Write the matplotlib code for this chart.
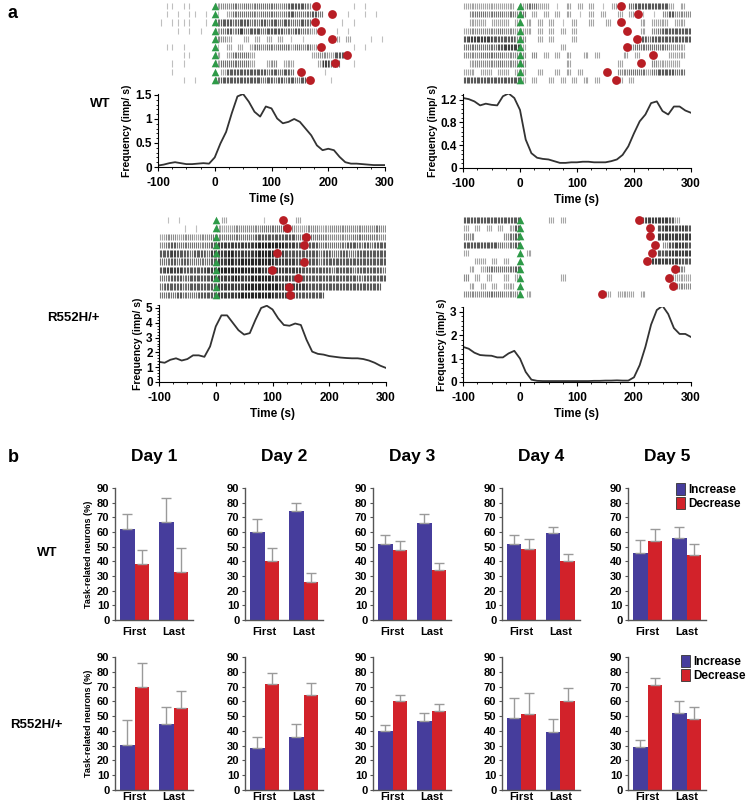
import numpy as np
import matplotlib
matplotlib.use("Agg")
from matplotlib import pyplot as plt
from matplotlib.patches import Patch
from matplotlib.ticker import MultipleLocator, AutoMinorLocator, FuncFormatter

plt.rcParams['font.family'] = ['Liberation Sans', 'DejaVu Sans']
plt.rcParams['font.weight'] = 'bold'
plt.rcParams['axes.labelweight'] = 'bold'
plt.rcParams['axes.unicode_minus'] = False

W, H = 752, 807

# ---------------- panel a data ----------------
times = np.arange(-100, 301, 10)

freq_wt_inc = [0.03, 0.05, 0.08, 0.10, 0.08, 0.06, 0.06, 0.07, 0.08, 0.07,
               0.20, 0.49, 0.73, 1.12, 1.47, 1.52, 1.36, 1.15, 1.05, 1.26,
               1.22, 1.01, 0.91, 0.94, 1.00, 0.94, 0.80, 0.66, 0.45, 0.35,
               0.38, 0.35, 0.21, 0.10, 0.07, 0.07, 0.06, 0.05, 0.04, 0.04, 0.04]
freq_wt_dec = [1.23, 1.21, 1.17, 1.10, 1.13, 1.11, 1.10, 1.26, 1.31, 1.23,
               1.02, 0.50, 0.26, 0.18, 0.16, 0.15, 0.12, 0.09, 0.09, 0.10,
               0.10, 0.11, 0.11, 0.10, 0.10, 0.10, 0.12, 0.15, 0.23, 0.38,
               0.61, 0.82, 0.94, 1.14, 1.17, 1.00, 0.94, 1.08, 1.08, 1.01, 0.97]
freq_mut_inc = [1.36, 1.30, 1.50, 1.60, 1.45, 1.55, 1.80, 1.80, 1.70, 2.40,
                3.75, 4.50, 4.50, 4.00, 3.50, 3.20, 3.30, 4.20, 5.00, 5.15,
                4.90, 4.30, 3.85, 3.80, 3.95, 3.85, 2.85, 2.05, 1.90, 1.85,
                1.75, 1.70, 1.65, 1.62, 1.60, 1.60, 1.55, 1.45, 1.30, 1.10, 0.95]
freq_mut_dec = [1.50, 1.42, 1.25, 1.15, 1.13, 1.12, 1.05, 1.05, 1.22, 1.33,
                1.00, 0.43, 0.10, 0.05, 0.04, 0.04, 0.04, 0.04, 0.04, 0.04,
                0.04, 0.04, 0.04, 0.05, 0.05, 0.06, 0.06, 0.07, 0.06, 0.06,
                0.20, 0.72, 1.50, 2.45, 3.07, 3.25, 2.90, 2.30, 2.05, 2.05, 1.92]

# raster darkness per 10 s bin (-100..300), one string per trial
raster_wt_inc = [
    "0220220000" "344545455554566640000000202000",
    "0202022020" "203555545554565556500002002020",
    "2022220020" "566566556565655650000020200000",
    "0002020200" "356475665666556543000202000000",
    "0000000000" "443003030303020200000303000202",
    "0220200000" "203030354545535453300000202000",
    "0000220000" "303555300000000003443660000000",
    "0020200000" "355555300340330000375500200000",
    "0020000000" "036666666565650000020000000000",
    "0000202000" "566666665656565640002000000000",
]
raster_wt_dec = [
    "3333333330" "355330203030302030056666663030",
    "0455455454" "503030303020303003030202046444",
    "0333033303" "030303020300300300000303330330",
    "3444445443" "330303030300000000000304566666",
    "6777766664" "400303000300000000003656666666",
    "5555556777" "300000030000000000045555554430",
    "4445555444" "404030303003030000303000003330",
    "0344445444" "400000003000000003000004333300",
    "3303303303" "300300303030000304455535666550",
    "6666666666" "303003030303030003030000000000",
]
raster_mut_inc = [
    "0202000000" "030000002000003000000000000000",
    "0000202000" "333444445555443344334444444454",
    "3443443445" "455555566666665555544444555544",
    "4565555456" "777777788888776666555556656566",
    "6676656657" "778777788877666666565565566666",
    "5565655556" "778788888877776666566666666666",
    "6777666677" "888888887777777666665666566665",
    "5566566667" "777877888877767666666666656666",
    "5666566666" "777778888887777766666666666660",
    "5556555666" "777788888877766666600000000000",
]
raster_mut_dec = [
    "6666666666" "000003030000000000000677776300",
    "3030303036" "000000000000000000000000677676",
    "4400000456" "000000000000000000000000777777",
    "6666665456" "000000000000000000000000046776",
    "3000000000" "030000000000000000000000667777",
    "0033030300" "000000000000000000000067777766",
    "0303555556" "000000000000000000000000000640",
    "4030300303" "000000030000000000000000003333",
    "0303030330" "000000000000000000000000000444",
    "4444555444" "030000000000000303330300000000",
]

cue_times = [0] * 10
end_wt = [178, 207, 177, 188, 206, 187, 233, 212, 152, 168]
end_mut_inc = [118, 126, 159, 155, 108, 155, 99, 145, 129, 130]
end_mut_dec = [209, 228, 228, 237, 232, 222, 272, 262, 269, 143]

# ---------------- panel b data ----------------
days = ["Day 1", "Day 2", "Day 3", "Day 4", "Day 5"]
blocks = ["First", "Last"]
wt_inc = [[62, 67], [60, 74], [52, 66], [51.5, 59.5], [46, 56]]
wt_inc_err = [[10, 16], [9, 6], [6, 6], [6.5, 4], [8.5, 7.5]]
wt_dec = [[38, 33], [40, 26], [48, 34], [48.5, 40.5], [54, 44]]
wt_dec_err = [[10, 16], [9, 6], [6, 5], [6.5, 4.5], [8, 8]]
mut_inc = [[30.5, 44.5], [28.5, 36], [40, 46.5], [48.5, 39.5], [29, 52]]
mut_inc_err = [[17, 11.5], [7.5, 9], [4, 5.5], [13.5, 8.5], [5, 8]]
mut_dec = [[69.5, 55.5], [71.5, 64], [60, 53.5], [51.5, 60.5], [71, 48]]
mut_dec_err = [[16.5, 11.5], [7.5, 8.5], [4.5, 5], [14, 8.5], [5, 8]]

BLUE = "#463d9c"
RED = "#d2222a"
GREEN = "#2e9a48"
DOTRED = "#b81e25"


def px_axes(x0, y0, x1, y1):
    return fig.add_axes([x0 / W, 1 - y1 / H, (x1 - x0) / W, (y1 - y0) / H])


def px_text(x, y, s, **kw):
    fig.text(x / W, 1 - y / H, s, **kw)


def draw_raster(ax, rows, ends):
    xs, y0s, y1s, cols = [], [], [], []
    for r, row in enumerate(rows):
        for i, c in enumerate(row):
            d = int(c)
            if d == 0:
                continue
            t0 = -100 + 10 * i
            if d >= 6:
                offs = [1.25, 3.75, 6.25, 8.75]
            elif d >= 3:
                offs = [1.7, 5.0, 8.3]
            else:
                offs = [5.0]
            g = max(0.0, 1 - 0.1 * d - 0.05)
            for o in offs:
                xs.append(t0 + o)
                y0s.append(r + 1 - 0.38)
                y1s.append(r + 1 + 0.38)
                cols.append((g, g, g))
    ax.vlines(xs, y0s, y1s, colors=cols, linewidth=0.8)
    rows_idx = np.arange(1, len(rows) + 1)
    ax.scatter(cue_times, rows_idx, marker='^', s=30, color=GREEN, zorder=3,
               clip_on=False, linewidths=0)
    ax.scatter(ends, rows_idx, marker='o', s=40, color=DOTRED, zorder=4,
               clip_on=False, linewidths=0)
    ax.set_xlim(-100, 300)
    ax.set_ylim(10.5, 0.5)
    ax.axis('off')


def draw_freq(ax, values, ymax, major):
    ax.plot(times, values, color="#333333", linewidth=1.3)
    ax.set_xlim(-100, 300)
    ax.set_ylim(0, ymax)
    ax.spines['top'].set_visible(False)
    ax.spines['right'].set_visible(False)
    ax.xaxis.set_major_locator(MultipleLocator(100))
    ax.xaxis.set_minor_locator(MultipleLocator(25))
    ax.yaxis.set_major_locator(MultipleLocator(major))
    ax.yaxis.set_minor_locator(AutoMinorLocator(5))
    ax.tick_params(labelsize=8.5, length=3, width=0.8, pad=1.5)
    ax.tick_params(axis='x', pad=4)
    ax.tick_params(which='minor', length=1.5, width=0.6)
    ax.set_xlabel("Time (s)", fontsize=8.5, labelpad=3)
    ax.set_ylabel("Frequency (imp/ s)", fontsize=7.5, labelpad=2)
    for lab in ax.get_xticklabels() + ax.get_yticklabels():
        lab.set_fontweight('bold')
    ax.yaxis.set_major_formatter(FuncFormatter(lambda v, p: "%g" % v))


fig = plt.figure(figsize=(7.52, 8.07), dpi=100)

# ---- panel a ----
draw_raster(px_axes(158, 2, 385, 84), raster_wt_inc, end_wt)
draw_raster(px_axes(463, 2, 691, 84), raster_wt_dec, end_wt)
draw_raster(px_axes(159, 216, 386, 299), raster_mut_inc, end_mut_inc)
draw_raster(px_axes(463, 216, 691, 298), raster_mut_dec, end_mut_dec)

draw_freq(px_axes(158, 94, 385, 167), freq_wt_inc, 1.52, 0.5)
draw_freq(px_axes(463, 94, 691, 168), freq_wt_dec, 1.3, 0.4)
draw_freq(px_axes(159, 305, 386, 382), freq_mut_inc, 5.2, 1)
draw_freq(px_axes(463, 307, 691, 382), freq_mut_dec, 3.2, 1)

px_text(8, 14, "a", fontsize=13, fontweight='bold', va='center')
px_text(100, 104, "WT", fontsize=9.5, fontweight='bold', ha='center', va='center')
px_text(73, 318, "R552H/+", fontsize=9.5, fontweight='bold', ha='center', va='center')

# ---- panel b ----
px_text(8, 458, "b", fontsize=13, fontweight='bold', va='center')
lefts = [115, 245, 373, 502, 628]
row_spans = [(488, 620), (657, 790)]
row_pads = [5, 1.5]
groups = [(wt_inc, wt_inc_err, wt_dec, wt_dec_err),
          (mut_inc, mut_inc_err, mut_dec, mut_dec_err)]
x = np.arange(len(blocks))
bw = 0.36
for j, (inc, inc_err, dec, dec_err) in enumerate(groups):
    top, bot = row_spans[j]
    for i in range(len(days)):
        ax = px_axes(lefts[i], top, lefts[i] + 78, bot)
        ekw = dict(ecolor="#9a9a9a", elinewidth=1.0, capsize=3.5, capthick=1.0)
        ax.bar(x - bw / 2, inc[i], bw, color=BLUE, zorder=2,
               yerr=[[0, 0], inc_err[i]], error_kw=ekw)
        ax.bar(x + bw / 2, dec[i], bw, color=RED, zorder=2,
               yerr=[[0, 0], dec_err[i]], error_kw=ekw)
        ax.set_xlim(-0.5, 1.5)
        ax.set_ylim(0, 90)
        ax.set_yticks(np.arange(0, 91, 10))
        ax.set_xticks(x)
        ax.set_xticklabels(blocks)
        ax.spines['top'].set_visible(False)
        ax.spines['right'].set_visible(False)
        for s in ('left', 'bottom'):
            ax.spines[s].set_color('#555555')
            ax.spines[s].set_linewidth(1.0)
        ax.tick_params(axis='y', labelsize=8, length=2.5, width=0.8, pad=1.5,
                       color='#555555')
        ax.tick_params(axis='x', labelsize=8, length=0, pad=row_pads[j])
        for lab in ax.get_xticklabels() + ax.get_yticklabels():
            lab.set_fontweight('bold')
        if i == 0:
            ax.set_ylabel("Task-related neurons (%)", fontsize=6.5, labelpad=3)
        if j == 0:
            px_text(lefts[i] + 39, 457, days[i], fontsize=12.5,
                    fontweight='bold', ha='center', va='center')

px_text(47, 553, "WT", fontsize=9.5, fontweight='bold', ha='center', va='center')
px_text(36, 725, "R552H/+", fontsize=9.5, fontweight='bold', ha='center', va='center')

for (lx, ly) in [(676, 483), (681, 655)]:
    handles = [Patch(facecolor=BLUE, edgecolor='#333333', linewidth=0.6, label='Increase'),
               Patch(facecolor=RED, edgecolor='#333333', linewidth=0.6, label='Decrease')]
    fig.legend(handles=handles, loc='upper left', bbox_to_anchor=(lx / W, 1 - ly / H),
               frameon=False, fontsize=8.5, handlelength=0.75, handleheight=1.2,
               handletextpad=0.3, labelspacing=0.1, borderpad=0, borderaxespad=0)

fig.savefig("out.png", dpi=100)
